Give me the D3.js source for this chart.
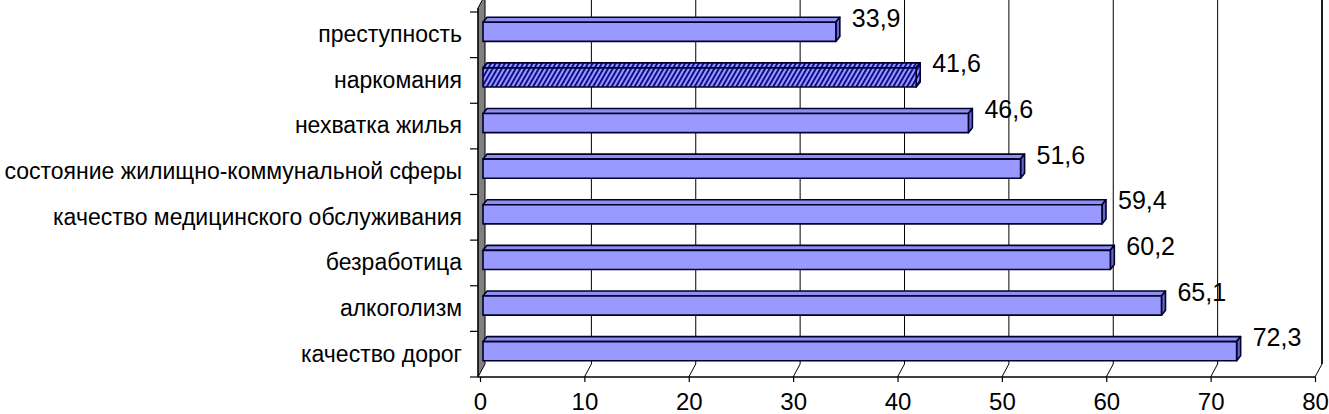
<!DOCTYPE html>
<html>
<head>
<meta charset="utf-8">
<script src="https://cdn.jsdelivr.net/npm/d3@7"></script>
<style>
  body { margin: 0; background: #fff; }
  svg { display: block; font-family: Arial, "Liberation Sans", sans-serif; }
</style>
</head>
<body>
<svg width="1329" height="414"></svg>
<script>
const categories = [
  "преступность",
  "наркомания",
  "нехватка жилья",
  "состояние жилищно-коммунальной сферы",
  "качество медицинского обслуживания",
  "безработица",
  "алкоголизм",
  "качество дорог"
];
const values = [33.9, 41.6, 46.6, 51.6, 59.4, 60.2, 65.1, 72.3];
const valueLabels = ["33,9", "41,6", "46,6", "51,6", "59,4", "60,2", "65,1", "72,3"];
const hatched = ["наркомания"];
const xTicks = [0, 10, 20, 30, 40, 50, 60, 70, 80];

const svg = d3.select("svg");
const FLOOR_Y = 377;
const DEPTH = [7, -13]; // wall depth offset
const BAR_DEPTH = [4, -5];

const x = d3.scaleLinear().domain([0, 80]).range([480, 1315]);
const y = d3.scaleBand().domain(categories).range([12, FLOOR_Y]);

// hatch pattern
const defs = svg.append("defs");
const pat = defs.append("pattern")
  .attr("id", "hatch")
  .attr("patternUnits", "userSpaceOnUse")
  .attr("width", 4).attr("height", 4)
  .attr("patternTransform", "rotate(30)");
pat.append("rect").attr("width", 4).attr("height", 4).attr("fill", "#9999ff");
pat.append("rect").attr("width", 1.8).attr("height", 4).attr("fill", "#000080");

// left wall
svg.append("path")
  .attr("d", `M${x(0) - 2},${FLOOR_Y} L${x(0) - 2 + DEPTH[0]},${FLOOR_Y + DEPTH[1]} L${x(0) - 2 + DEPTH[0]},-5 L${x(0) - 2},8 Z`)
  .attr("fill", "#808080")
  .attr("stroke", "#000")
  .attr("stroke-width", 1);

// back wall gridlines + floor lines
xTicks.filter(d => d > 0).forEach(d => {
  svg.append("line")
    .attr("x1", x(d) + DEPTH[0]).attr("x2", x(d) + DEPTH[0])
    .attr("y1", 0).attr("y2", FLOOR_Y + DEPTH[1])
    .attr("stroke", "#000").attr("stroke-width", 1);
  svg.append("line")
    .attr("x1", x(d)).attr("y1", FLOOR_Y)
    .attr("x2", x(d) + DEPTH[0]).attr("y2", FLOOR_Y + DEPTH[1])
    .attr("stroke", "#000").attr("stroke-width", 1);
});

// bars
const barH = y.bandwidth() * 0.42;
const bars = svg.append("g");
categories.forEach((c, i) => {
  const v = values[i];
  const x0 = x(0) + 3;
  const x1 = x(v) + 2;
  const cy = y(c) + y.bandwidth() / 2 - 3;
  const top = cy - barH / 2, bot = cy + barH / 2;
  const fill = hatched.includes(c) ? "url(#hatch)" : "#9999ff";
  const g = bars.append("g").attr("stroke", "#00002a").attr("stroke-width", 1.6).attr("stroke-linejoin", "round");
  // top face
  g.append("path")
    .attr("d", `M${x0},${top} L${x0 + BAR_DEPTH[0]},${top + BAR_DEPTH[1]} L${x1 + BAR_DEPTH[0]},${top + BAR_DEPTH[1]} L${x1},${top} Z`)
    .attr("fill", fill === "#9999ff" ? "#8f8fef" : fill);
  // end face
  g.append("path")
    .attr("d", `M${x1},${top} L${x1 + BAR_DEPTH[0]},${top + BAR_DEPTH[1]} L${x1 + BAR_DEPTH[0]},${bot + BAR_DEPTH[1]} L${x1},${bot} Z`)
    .attr("fill", fill === "#9999ff" ? "#6666cc" : fill);
  // front face
  g.append("rect")
    .attr("x", x0).attr("y", top)
    .attr("width", x1 - x0).attr("height", barH)
    .attr("fill", fill);
  // value label
  svg.append("text")
    .attr("x", x1 + 16)
    .attr("y", cy - 14)
    .attr("dominant-baseline", "central")
    .attr("font-size", 25)
    .attr("fill", "#000")
    .text(valueLabels[i]);
});

// right wall edge
svg.append("line")
  .attr("x1", x(80) + DEPTH[0]).attr("x2", x(80) + DEPTH[0])
  .attr("y1", 0).attr("y2", FLOOR_Y + DEPTH[1])
  .attr("stroke", "#000").attr("stroke-width", 1.5);

// bottom axis
const xAxis = svg.append("g")
  .attr("transform", `translate(0,${FLOOR_Y})`)
  .call(d3.axisBottom(x).tickValues(xTicks).tickSize(5).tickPadding(11).tickFormat(d3.format("d")));
xAxis.selectAll("text").attr("font-size", 24).attr("font-family", "Arial, 'Liberation Sans', sans-serif").attr("fill", "#000");
xAxis.select(".domain").attr("stroke-width", 1.5).attr("d", `M${x(0) - 2},0H${x(80)}`);
xAxis.selectAll(".tick line").attr("stroke-width", 1.2);

// left axis
const yAxis = svg.append("g")
  .attr("transform", `translate(${x(0) - 2},0)`)
  .call(d3.axisLeft(y).tickSize(0).tickPadding(16));
yAxis.select(".domain").attr("stroke-width", 1.2).attr("d", `M0,8V${FLOOR_Y}`);
yAxis.selectAll("text").attr("font-size", 23).attr("font-family", "Arial, 'Liberation Sans', sans-serif").attr("fill", "#000");
// category boundary ticks
categories.concat([null]).forEach((c, i) => {
  const ty = c ? y(c) : FLOOR_Y;
  yAxis.append("line")
    .attr("x1", -8).attr("x2", 0)
    .attr("y1", ty).attr("y2", ty)
    .attr("stroke", "#000").attr("stroke-width", 1.2);
});
</script>
</body>
</html>
